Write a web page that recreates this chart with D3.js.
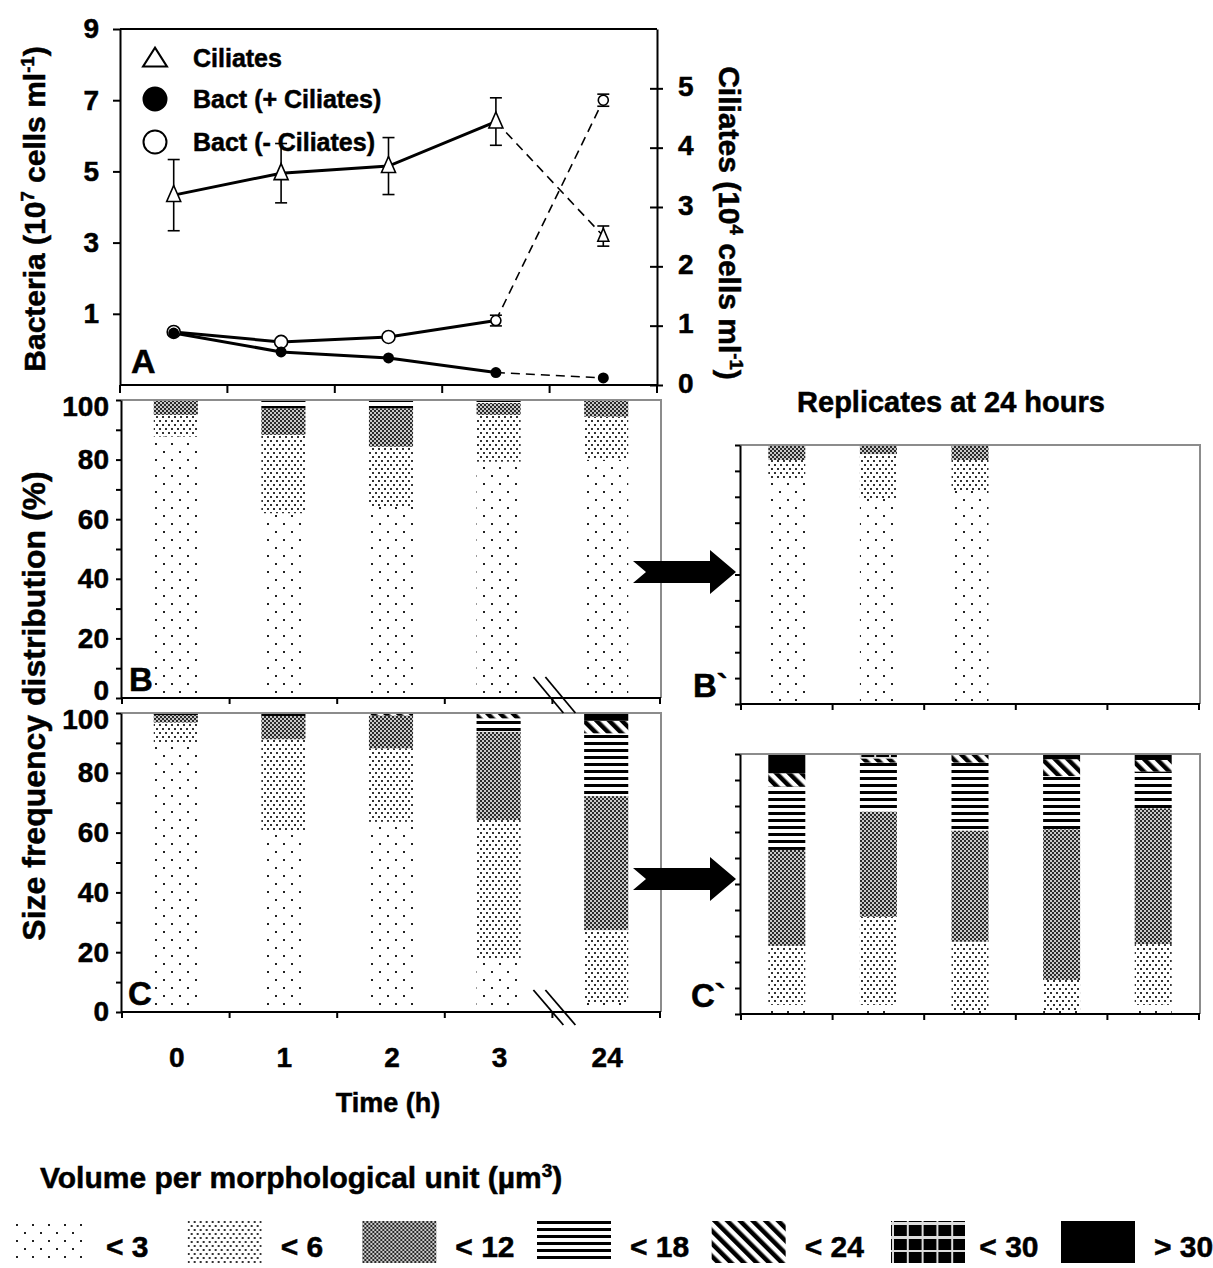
<!DOCTYPE html>
<html>
<head>
<meta charset="utf-8">
<script src="https://cdn.jsdelivr.net/npm/d3@7"></script>
<style>
  body { margin: 0; background: #fff; }
  svg text { font-family: "Liberation Sans", Arial, sans-serif; font-weight: bold; fill: #000;
             stroke: #000; stroke-width: 0.5px; }
</style>
</head>
<body>
<script>
// ---- data ----
const times = ["0", "1", "2", "3", "24"];
const reps = ["r1", "r2", "r3", "r4", "r5"];

// panel A (ciliates on right axis, bacteria on left axis)
const ciliates    = [3.2, 3.57, 3.69, 4.44, 2.51];
const ciliatesErr = [0.6, 0.5, 0.48, 0.4, 0.17];
const bactPlus    = [0.46, -0.07, -0.24, -0.65, -0.8];
const bactMinus   = [0.49, 0.21, 0.35, 0.81, 7.0];
const bactMinusErr = [0, 0, 0, 0.15, 0.17];

const sizeClasses = ["< 3", "< 6", "< 12", "< 18", "< 24", "< 30", "> 30"];

// % per size class, one row per bar
const panelB = [
  [87.7, 7.3, 5.0, 0, 0, 0, 0],
  [62.0, 26.3, 8.9, 2.8, 0, 0, 0],
  [64.2, 20.1, 12.9, 2.8, 0, 0, 0],
  [79.3, 15.7, 4.0, 1.0, 0, 0, 0],
  [79.9, 14.5, 5.6, 0, 0, 0, 0]
];
const panelC = [
  [89.9, 6.9, 2.5, 0, 0, 0, 0.7],
  [60.3, 30.9, 7.8, 0, 0, 0, 1.0],
  [63.6, 24.6, 10.9, 0, 0.9, 0, 0],
  [17.4, 46.8, 29.5, 4.5, 1.8, 0, 0],
  [3.3, 24.1, 44.8, 21.0, 4.2, 0, 2.6]
];
const panelB2 = [
  [87.1, 7.1, 5.8, 0, 0, 0, 0],
  [79.4, 17.1, 3.5, 0, 0, 0, 0],
  [82.6, 11.6, 5.8, 0, 0, 0, 0]
];
const panelC2 = [
  [3.5, 22.7, 36.9, 24.3, 5.2, 0, 7.4],
  [3.5, 33.9, 40.4, 18.9, 1.6, 1.7, 0],
  [1.5, 26.3, 42.7, 26.2, 3.3, 0, 0],
  [1.5, 11.6, 57.9, 20.5, 6.5, 0, 2.0],
  [3.5, 23.4, 52.2, 14.1, 4.5, 0, 2.3]
];

const svg = d3.select("body").append("svg")
  .attr("width", 1213).attr("height", 1268);

// ---- fill patterns ----
const defs = svg.append("defs");
function pat(id, w, h) {
  return defs.append("pattern").attr("id", id)
    .attr("patternUnits", "userSpaceOnUse")
    .attr("width", w).attr("height", h);
}
let p = pat("p0", 16, 16);
p.append("rect").attr("x", 3).attr("y", 3).attr("width", 2).attr("height", 2).attr("fill", "#222");
p.append("rect").attr("x", 11).attr("y", 11).attr("width", 2).attr("height", 2).attr("fill", "#222");
p = pat("p1", 6, 8);
p.append("rect").attr("x", 0).attr("y", 0).attr("width", 2).attr("height", 2).attr("fill", "#333");
p.append("rect").attr("x", 3).attr("y", 4).attr("width", 2).attr("height", 2).attr("fill", "#333");
p = pat("p2", 4, 4);
p.append("rect").attr("width", 4).attr("height", 4).attr("fill", "#c8c8c8");
p.append("rect").attr("width", 2).attr("height", 2).attr("fill", "#2a2a2a");
p.append("rect").attr("x", 2).attr("y", 2).attr("width", 2).attr("height", 2).attr("fill", "#2a2a2a");
p = pat("p3", 8, 7);
p.append("rect").attr("width", 8).attr("height", 3).attr("fill", "#000");
p = pat("p4", 9, 9).attr("patternTransform", "rotate(-45)");
p.append("rect").attr("width", 4.5).attr("height", 9).attr("fill", "#000");
p = pat("p5", 14.8, 14).attr("x", 891).attr("y", 1221);
p.append("rect").attr("width", 14.8).attr("height", 14).attr("fill", "#000");
p.append("rect").attr("x", 12.8).attr("width", 2).attr("height", 14).attr("fill", "#ddd");
p.append("rect").attr("y", 12).attr("width", 14.8).attr("height", 2).attr("fill", "#ddd");
const fills = ["url(#p0)", "url(#p1)", "url(#p2)", "url(#p3)", "url(#p4)", "url(#p5)", "#000"];
const fill = d3.scaleOrdinal().domain(sizeClasses).range(fills);

// ---- panel A ----
const xA = d3.scaleBand().domain(times).range([120, 657]);
const yL = d3.scaleLinear().domain([-1, 9]).range([385, 29]);
const yR = d3.scaleLinear().domain([0, 6]).range([385, 29]);
const cx = t => xA(t) + xA.bandwidth() / 2;

const gA = svg.append("g");
gA.append("g").attr("transform", "translate(120,0)")
  .call(d3.axisLeft(yL).tickValues([1, 3, 5, 7, 9]).tickSize(7).tickSizeOuter(0).tickPadding(14))
  .call(g => g.selectAll("text").style("font-size", "28px"));
gA.append("g").attr("transform", "translate(657,0)")
  .call(d3.axisRight(yR).tickValues([0, 1, 2, 3, 4, 5]).tickFormat(d3.format("d"))
    .tickSize(6).tickSizeOuter(0).tickPadding(15))
  .call(g => g.selectAll(".tick line").attr("x1", -7))
  .call(g => g.selectAll("text").style("font-size", "28px").attr("dy", "0.25em"));
gA.append("line").attr("x1", 120).attr("x2", 657).attr("y1", 29).attr("y2", 29);
gA.append("line").attr("x1", 120).attr("x2", 657).attr("y1", 385).attr("y2", 385);
gA.selectAll(".xt").data(times.concat(["end"])).enter().append("line")
  .attr("x1", d => d === "end" ? 657 : xA(d)).attr("x2", d => d === "end" ? 657 : xA(d))
  .attr("y1", 385).attr("y2", 393);
gA.selectAll("line").attr("stroke", "#000").attr("stroke-width", 2);
gA.selectAll(".domain").attr("stroke", "#000").attr("stroke-width", 2);

// lines: solid 0-3 h, dashed 3-24 h
function series(vals, y) {
  const pts = times.map((t, i) => [cx(t), y(vals[i])]);
  gA.append("path").attr("d", d3.line()(pts.slice(0, 4)))
    .attr("fill", "none").attr("stroke", "#000").attr("stroke-width", 3);
  gA.append("path").attr("d", d3.line()(pts.slice(3)))
    .attr("fill", "none").attr("stroke", "#000").attr("stroke-width", 1.6)
    .attr("stroke-dasharray", "9,6");
}
series(ciliates, yR);
series(bactMinus, yL);
series(bactPlus, yL);

function errBars(vals, errs, y) {
  times.forEach((t, i) => {
    if (!errs[i]) return;
    const x = cx(t), y1 = y(vals[i] + errs[i]), y2 = y(vals[i] - errs[i]);
    const e = gA.append("g").attr("stroke", "#000").attr("stroke-width", 1.6);
    e.append("line").attr("x1", x).attr("x2", x).attr("y1", y1).attr("y2", y2);
    e.append("line").attr("x1", x - 6).attr("x2", x + 6).attr("y1", y1).attr("y2", y1);
    e.append("line").attr("x1", x - 6).attr("x2", x + 6).attr("y1", y2).attr("y2", y2);
  });
}
errBars(ciliates, ciliatesErr, yR);
errBars(bactMinus, bactMinusErr, yL);

const tri = (w, h) => `M0,${-h * 0.6}L${w / 2},${h * 0.4}L${-w / 2},${h * 0.4}Z`;
gA.selectAll(".tri").data(times).enter().append("path")
  .attr("transform", (t, i) => `translate(${cx(t)},${yR(ciliates[i])})`)
  .attr("d", (t, i) => i === 4 ? tri(11, 13) : tri(14, 16))
  .attr("fill", "#fff").attr("stroke", "#000").attr("stroke-width", 1.6);
gA.selectAll(".open").data(times).enter().append("circle")
  .attr("cx", cx).attr("cy", (t, i) => yL(bactMinus[i]))
  .attr("r", (t, i) => i > 2 ? 5 : 6.5)
  .attr("fill", "#fff").attr("stroke", "#000").attr("stroke-width", 1.6);
gA.selectAll(".fill").data(times).enter().append("circle")
  .attr("cx", cx).attr("cy", (t, i) => yL(bactPlus[i]))
  .attr("r", 5.5).attr("fill", "#000");

// legend of panel A
const legA = [
  { label: "Ciliates", y: 58 },
  { label: "Bact (+ Ciliates)", y: 99 },
  { label: "Bact (- Ciliates)", y: 142 }
];
legA.forEach((d, i) => {
  if (i === 0) {
    gA.append("path").attr("transform", `translate(155,${d.y + 1})`).attr("d", tri(24, 19))
      .attr("fill", "#fff").attr("stroke", "#000").attr("stroke-width", 2);
  } else {
    gA.append("circle").attr("cx", 155).attr("cy", d.y).attr("r", 11.5)
      .attr("fill", i === 1 ? "#000" : "#fff").attr("stroke", "#000").attr("stroke-width", 2);
  }
  gA.insert("text", ":first-child").attr("x", 193).attr("y", d.y + 9).style("font-size", "25px").text(d.label);
});
gA.append("text").attr("x", 131).attr("y", 373).style("font-size", "34px").text("A");

// axis titles with superscripts
function titleWithSup(g, parts, size) {
  const t = g.append("text").style("font-size", size + "px").attr("text-anchor", "middle");
  parts.forEach(pt => {
    if (pt.sup) {
      t.append("tspan").attr("dy", -size * 0.38).style("font-size", (size * 0.62) + "px").text(pt.sup);
      t.append("tspan").attr("dy", size * 0.38).text(pt.after);
    } else {
      t.append("tspan").text(pt.text);
    }
  });
  return t;
}
titleWithSup(svg.append("g").attr("transform", "translate(45,209) rotate(-90)"),
  [{ text: "Bacteria (10" }, { sup: "7", after: " cells ml" }, { sup: "-1", after: ")" }], 30);
titleWithSup(svg.append("g").attr("transform", "translate(719,223) rotate(90)"),
  [{ text: "Ciliates (10" }, { sup: "4", after: " cells ml" }, { sup: "-1", after: ")" }], 30);

// ---- bar panels ----
const xBar = d3.scaleBand().domain(times).range([122, 660]).paddingInner(0.59).paddingOuter(0.295);
const xBarEdge = d3.scaleBand().domain(times).range([122, 660]);
const xRep = d3.scaleBand().domain(reps).range([741, 1199]).paddingInner(0.596).paddingOuter(0.298);
const xRepEdge = d3.scaleBand().domain(reps).range([741, 1199]);

function barPanel(opts) {
  const { rows, cats, x, xEdge, y, labels, name, nameX } = opts;
  const g = svg.append("g");
  const x0 = x.range()[0], x1 = x.range()[1];
  const y0 = y.range()[0], y1 = y.range()[1];
  const table = rows.map((r, i) => {
    const o = { cat: cats[i] };
    sizeClasses.forEach((k, j) => { o[k] = r[j]; });
    return o;
  });
  const stacked = d3.stack().keys(sizeClasses)(table);
  g.selectAll(".layer").data(stacked).enter().append("g")
    .attr("fill", d => fill(d.key))
    .selectAll("rect").data(d => d.filter(s => s[1] > s[0])).enter().append("rect")
    .attr("x", d => x(d.data.cat)).attr("width", x.bandwidth())
    .attr("y", d => y(d[1])).attr("height", d => y(d[0]) - y(d[1]));
  // gray frame top/right
  g.append("path").attr("d", `M${x0 - 1},${y1}H${x1 + 1}V${y0}`)
    .attr("fill", "none").attr("stroke", "#8c8c8c").attr("stroke-width", 2);
  const ax = g.append("g").attr("transform", `translate(${x0 - 1},0)`)
    .call(d3.axisLeft(y).tickValues(d3.range(0, 101, 10)).tickSize(5).tickSizeOuter(0).tickPadding(7)
      .tickFormat(d => labels && d % 20 === 0 ? d : ""));
  ax.selectAll("text").style("font-size", "28px");
  ax.selectAll(".tick").filter(d => d === 100).select("text").attr("dy", "0.55em");
  if (labels === "B") ax.selectAll(".tick").filter(d => d === 0).select("text").attr("dy", "0.05em");
  ax.selectAll("line, .domain").attr("stroke", "#000").attr("stroke-width", 2);
  g.append("line").attr("x1", x0 - 1).attr("x2", x1 + 1).attr("y1", y0).attr("y2", y0)
    .attr("stroke", "#000").attr("stroke-width", 2);
  g.selectAll(".bt").data(cats.concat(["end"])).enter().append("line")
    .attr("x1", d => d === "end" ? x1 : xEdge(d)).attr("x2", d => d === "end" ? x1 : xEdge(d))
    .attr("y1", y0).attr("y2", y0 + 6).attr("stroke", "#000").attr("stroke-width", 2);
  g.append("text").attr("x", nameX).attr("y", y0 - 7).style("font-size", "33px").text(name);
  return g;
}

const yB = d3.scaleLinear().domain([0, 100]).range([698, 400]);
const yC = d3.scaleLinear().domain([0, 100]).range([1012, 713]);
const yB2 = d3.scaleLinear().domain([0, 100]).range([704, 445]);
const yC2 = d3.scaleLinear().domain([0, 100]).range([1014, 754]);

barPanel({ rows: panelB, cats: times, x: xBar, xEdge: xBarEdge, y: yB, labels: "B", name: "B", nameX: 129 });
barPanel({ rows: panelC, cats: times, x: xBar, xEdge: xBarEdge, y: yC, labels: "C", name: "C", nameX: 128 });
barPanel({ rows: panelB2, cats: reps, x: xRep, xEdge: xRepEdge, y: yB2, labels: null, name: "B`", nameX: 693 });
barPanel({ rows: panelC2, cats: reps, x: xRep, xEdge: xRepEdge, y: yC2, labels: null, name: "C`", nameX: 691 });

// axis break marks between 3 h and 24 h
const brk = xBarEdge("24");
[[677, 713], [990, 1025]].forEach(([ya, yb]) => {
  [-13, -1].forEach(off => {
    svg.append("line").attr("x1", brk + off - 6).attr("x2", brk + off + 24)
      .attr("y1", ya).attr("y2", yb).attr("stroke", "#000").attr("stroke-width", 1.8);
  });
});

// arrows pointing to replicates
function arrow(xt, yc) {
  const pts = [[0, -11], [77, -11], [77, -22], [103, 0], [77, 22], [77, 11], [0, 11], [13, 0]]
    .map(([a, b]) => [xt + a, yc + b]);
  svg.append("path").attr("d", d3.line()(pts) + "Z").attr("fill", "#000");
}
arrow(633, 572);
arrow(633, 879);

// x labels and titles
svg.selectAll(".xl").data(times).enter().append("text")
  .attr("x", t => xBar(t) + xBar.bandwidth() / 2 + 1).attr("y", 1067)
  .attr("text-anchor", "middle").style("font-size", "28px").text(t => t);
svg.append("text").attr("x", 388).attr("y", 1112).attr("text-anchor", "middle")
  .style("font-size", "27px").text("Time (h)");
svg.append("text").attr("x", 951).attr("y", 412).attr("text-anchor", "middle")
  .style("font-size", "29px").text("Replicates at 24 hours");
svg.append("text").attr("transform", "translate(45,706) rotate(-90)").attr("text-anchor", "middle")
  .style("font-size", "32px").text("Size frequency distribution (%)");

// size class legend
const tl = svg.append("text").attr("x", 40).attr("y", 1188).style("font-size", "30px");
tl.append("tspan").text("Volume per morphological unit (µm");
tl.append("tspan").attr("dy", -11).style("font-size", "19px").text("3");
tl.append("tspan").attr("dy", 11).text(")");

const xLeg = d3.scalePoint().domain(sizeClasses).range([13, 1061]);
const leg = svg.selectAll(".leg").data(sizeClasses).enter().append("g")
  .attr("transform", d => `translate(${xLeg(d)},1221)`);
leg.append("rect").attr("width", 74).attr("height", 42)
  .attr("fill", d => fill(d))
  .attr("transform", d => d === "< 30" ? `translate(${891 - xLeg(d)},0)` : null);
leg.append("text").attr("x", 93).attr("y", 36).style("font-size", "30px").text(d => d);
</script>
</body>
</html>
